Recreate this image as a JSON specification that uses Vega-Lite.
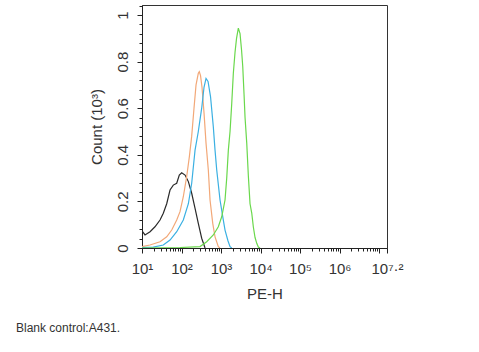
{
  "$schema": "https://vega.github.io/schema/vega-lite/v6.json",
  "width": 245,
  "height": 243,
  "autosize": {"type": "none"},
  "padding": {"left": 142, "top": 5, "right": 92, "bottom": 104},
  "background": "white",
  "view": {"stroke": "#333333", "strokeWidth": 1, "fill": "white"},
  "config": {
    "font": "Liberation Sans",
    "axis": {"labelFont": "Liberation Sans", "titleFont": "Liberation Sans", "labelColor": "#333333", "titleColor": "#333333", "domainColor": "#222222", "tickColor": "#222222", "grid": false}
  },
  "title": {
    "text": "Blank control:A431.",
    "orient": "bottom",
    "anchor": "start",
    "frame": "group",
    "dx": -126,
    "offset": 22,
    "fontSize": 12,
    "fontWeight": "normal",
    "font": "Liberation Sans",
    "color": "#333333"
  },
  "data": {
    "values": [
      {"sample": "Blank control", "intensity": 10, "count": 0.074},
      {"sample": "Blank control", "intensity": 11.9, "count": 0.056},
      {"sample": "Blank control", "intensity": 16.0, "count": 0.07},
      {"sample": "Blank control", "intensity": 21.3, "count": 0.091},
      {"sample": "Blank control", "intensity": 28.6, "count": 0.12},
      {"sample": "Blank control", "intensity": 34.6, "count": 0.149},
      {"sample": "Blank control", "intensity": 42.2, "count": 0.19},
      {"sample": "Blank control", "intensity": 51.2, "count": 0.249},
      {"sample": "Blank control", "intensity": 61.9, "count": 0.27},
      {"sample": "Blank control", "intensity": 75.5, "count": 0.278},
      {"sample": "Blank control", "intensity": 87.9, "count": 0.313},
      {"sample": "Blank control", "intensity": 101, "count": 0.323},
      {"sample": "Blank control", "intensity": 123, "count": 0.313},
      {"sample": "Blank control", "intensity": 149, "count": 0.285},
      {"sample": "Blank control", "intensity": 181, "count": 0.235},
      {"sample": "Blank control", "intensity": 220, "count": 0.17},
      {"sample": "Blank control", "intensity": 266, "count": 0.106},
      {"sample": "Blank control", "intensity": 324, "count": 0.042},
      {"sample": "Blank control", "intensity": 394, "count": 0},
      {"sample": "Sample 1", "intensity": 10, "count": 0.006},
      {"sample": "Sample 1", "intensity": 15.9, "count": 0.013},
      {"sample": "Sample 1", "intensity": 28.6, "count": 0.027},
      {"sample": "Sample 1", "intensity": 42.2, "count": 0.048},
      {"sample": "Sample 1", "intensity": 56.5, "count": 0.077},
      {"sample": "Sample 1", "intensity": 75.6, "count": 0.12},
      {"sample": "Sample 1", "intensity": 91.6, "count": 0.156},
      {"sample": "Sample 1", "intensity": 111, "count": 0.22},
      {"sample": "Sample 1", "intensity": 135, "count": 0.306},
      {"sample": "Sample 1", "intensity": 158, "count": 0.392},
      {"sample": "Sample 1", "intensity": 181, "count": 0.48},
      {"sample": "Sample 1", "intensity": 207, "count": 0.6},
      {"sample": "Sample 1", "intensity": 233, "count": 0.7},
      {"sample": "Sample 1", "intensity": 266, "count": 0.75},
      {"sample": "Sample 1", "intensity": 282, "count": 0.757},
      {"sample": "Sample 1", "intensity": 303, "count": 0.74},
      {"sample": "Sample 1", "intensity": 330, "count": 0.69},
      {"sample": "Sample 1", "intensity": 371, "count": 0.58},
      {"sample": "Sample 1", "intensity": 417, "count": 0.45},
      {"sample": "Sample 1", "intensity": 477, "count": 0.335},
      {"sample": "Sample 1", "intensity": 527, "count": 0.206},
      {"sample": "Sample 1", "intensity": 617, "count": 0.106},
      {"sample": "Sample 1", "intensity": 705, "count": 0.048},
      {"sample": "Sample 1", "intensity": 854, "count": 0.006},
      {"sample": "Sample 1", "intensity": 943, "count": 0},
      {"sample": "Sample 2", "intensity": 10, "count": 0.002},
      {"sample": "Sample 2", "intensity": 19.3, "count": 0.004},
      {"sample": "Sample 2", "intensity": 34.6, "count": 0.013},
      {"sample": "Sample 2", "intensity": 51.2, "count": 0.034},
      {"sample": "Sample 2", "intensity": 75.6, "count": 0.07},
      {"sample": "Sample 2", "intensity": 111, "count": 0.12},
      {"sample": "Sample 2", "intensity": 149, "count": 0.19},
      {"sample": "Sample 2", "intensity": 181, "count": 0.278},
      {"sample": "Sample 2", "intensity": 220, "count": 0.42},
      {"sample": "Sample 2", "intensity": 266, "count": 0.5},
      {"sample": "Sample 2", "intensity": 324, "count": 0.6},
      {"sample": "Sample 2", "intensity": 371, "count": 0.69},
      {"sample": "Sample 2", "intensity": 417, "count": 0.728},
      {"sample": "Sample 2", "intensity": 469, "count": 0.715},
      {"sample": "Sample 2", "intensity": 542, "count": 0.65},
      {"sample": "Sample 2", "intensity": 638, "count": 0.52},
      {"sample": "Sample 2", "intensity": 705, "count": 0.42},
      {"sample": "Sample 2", "intensity": 778, "count": 0.335},
      {"sample": "Sample 2", "intensity": 943, "count": 0.206},
      {"sample": "Sample 2", "intensity": 1143, "count": 0.12},
      {"sample": "Sample 2", "intensity": 1262, "count": 0.077},
      {"sample": "Sample 2", "intensity": 1503, "count": 0.03},
      {"sample": "Sample 2", "intensity": 1690, "count": 0.006},
      {"sample": "Sample 2", "intensity": 1866, "count": 0},
      {"sample": "Sample 3", "intensity": 10, "count": 0},
      {"sample": "Sample 3", "intensity": 91.6, "count": 0.002},
      {"sample": "Sample 3", "intensity": 294, "count": 0.006},
      {"sample": "Sample 3", "intensity": 434, "count": 0.027},
      {"sample": "Sample 3", "intensity": 638, "count": 0.056},
      {"sample": "Sample 3", "intensity": 854, "count": 0.091},
      {"sample": "Sample 3", "intensity": 1041, "count": 0.134},
      {"sample": "Sample 3", "intensity": 1262, "count": 0.206},
      {"sample": "Sample 3", "intensity": 1393, "count": 0.3},
      {"sample": "Sample 3", "intensity": 1531, "count": 0.42},
      {"sample": "Sample 3", "intensity": 1690, "count": 0.5},
      {"sample": "Sample 3", "intensity": 1866, "count": 0.62},
      {"sample": "Sample 3", "intensity": 2048, "count": 0.75},
      {"sample": "Sample 3", "intensity": 2261, "count": 0.84},
      {"sample": "Sample 3", "intensity": 2468, "count": 0.9},
      {"sample": "Sample 3", "intensity": 2740, "count": 0.944},
      {"sample": "Sample 3", "intensity": 3027, "count": 0.92},
      {"sample": "Sample 3", "intensity": 3304, "count": 0.85},
      {"sample": "Sample 3", "intensity": 3542, "count": 0.78},
      {"sample": "Sample 3", "intensity": 3822, "count": 0.66},
      {"sample": "Sample 3", "intensity": 4053, "count": 0.56},
      {"sample": "Sample 3", "intensity": 4474, "count": 0.45},
      {"sample": "Sample 3", "intensity": 4910, "count": 0.31},
      {"sample": "Sample 3", "intensity": 5420, "count": 0.19},
      {"sample": "Sample 3", "intensity": 5985, "count": 0.15},
      {"sample": "Sample 3", "intensity": 6573, "count": 0.09},
      {"sample": "Sample 3", "intensity": 7258, "count": 0.045},
      {"sample": "Sample 3", "intensity": 8014, "count": 0.02},
      {"sample": "Sample 3", "intensity": 8790, "count": 0.004},
      {"sample": "Sample 3", "intensity": 9703, "count": 0}
    ]
  },
  "mark": {"type": "line", "strokeWidth": 1.2, "interpolate": "linear", "clip": true},
  "encoding": {
    "x": {
      "field": "intensity",
      "type": "quantitative",
      "scale": {"type": "log", "domain": [10, 15848932], "nice": false},
      "axis": {
        "title": "PE-H",
        "titleFontSize": 15,
        "titleFontWeight": "normal",
        "titlePadding": 10,
        "labelFontSize": 15,
        "labelPadding": 8,
        "labelFlush": false,
        "labelOverlap": false,
        "labelBound": false,
        "values": [10, 20, 30, 40, 50, 60, 70, 80, 90, 100, 200, 300, 400, 500, 600, 700, 800, 900, 1000, 2000, 3000, 4000, 5000, 6000, 7000, 8000, 9000, 10000, 20000, 30000, 40000, 50000, 60000, 70000, 80000, 90000, 100000, 200000, 300000, 400000, 500000, 600000, 700000, 800000, 900000, 1000000, 2000000, 3000000, 4000000, 5000000, 6000000, 7000000, 8000000, 9000000, 10000000, 15848932],
        "labelExpr": "datum.value > 15000000 ? '10⁷·²' : ((abs(log(datum.value)/LN10 - round(log(datum.value)/LN10)) < 0.001 && datum.value < 5000000) ? '10' + ['⁰','¹','²','³','⁴','⁵','⁶'][round(log(datum.value)/LN10)] : '')",
        "tickSize": {"condition": {"test": "abs(log(datum.value)/LN10 - round(log(datum.value)/LN10)) < 0.001 || datum.value > 15000000", "value": 5}, "value": 3},
        "domainWidth": 1,
        "tickWidth": 1
      }
    },
    "y": {
      "field": "count",
      "type": "quantitative",
      "scale": {"domain": [0, 1.043], "nice": false, "zero": true},
      "axis": {
        "title": "Count (10³)",
        "titleFontSize": 15,
        "titleFontWeight": "normal",
        "titlePadding": 11,
        "labelFontSize": 15,
        "labelAngle": 270,
        "labelAlign": "center",
        "labelBaseline": "bottom",
        "labelPadding": 7,
        "labelOverlap": false,
        "labelFlush": false,
        "values": [0, 0.04, 0.08, 0.12, 0.16, 0.2, 0.24, 0.28, 0.32, 0.36, 0.4, 0.44, 0.48, 0.52, 0.56, 0.6, 0.64, 0.68, 0.72, 0.76, 0.8, 0.84, 0.88, 0.92, 0.96, 1, 1.04],
        "labelExpr": "(abs(datum.value*5 - round(datum.value*5)) < 0.001 && datum.value < 1.01) ? format(datum.value, '~g') : ''",
        "tickSize": {"condition": {"test": "abs(datum.value*5 - round(datum.value*5)) < 0.001 && datum.value < 1.01", "value": 5}, "value": 3},
        "domainWidth": 1,
        "tickWidth": 1
      }
    },
    "color": {
      "field": "sample",
      "type": "nominal",
      "scale": {"domain": ["Blank control", "Sample 1", "Sample 2", "Sample 3"], "range": ["#2a2a2a", "#f2a878", "#3bb0e2", "#6ad84c"]},
      "legend": null
    }
  }
}
